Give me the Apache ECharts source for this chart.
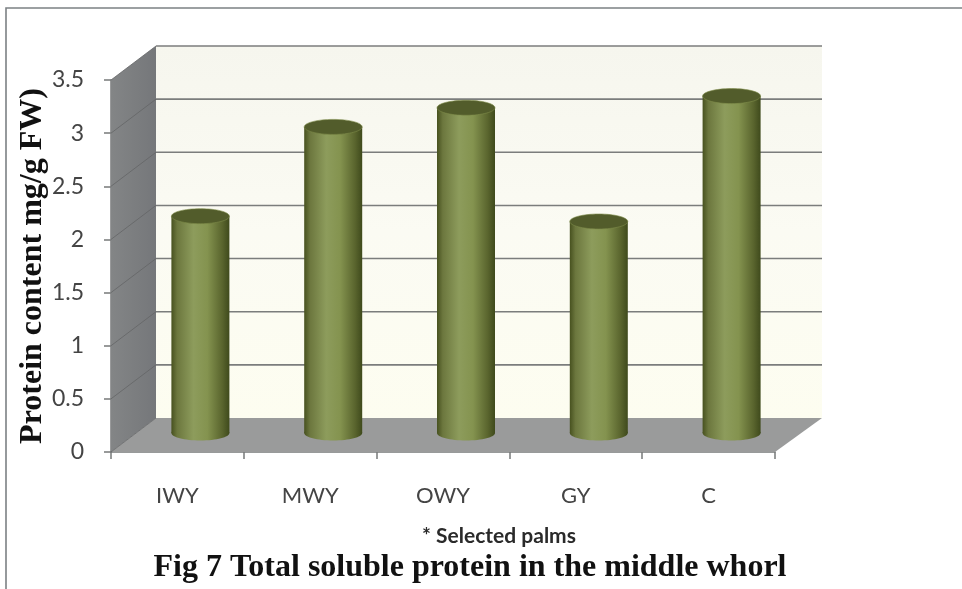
<!DOCTYPE html>
<html>
<head>
<meta charset="utf-8">
<style>html,body{margin:0;padding:0;background:#fff}#chart{width:962px;height:589px}</style>
<script src="https://cdn.jsdelivr.net/npm/echarts@6/dist/echarts.min.js"></script>
</head>
<body>
<div id="chart"></div>
<script>
// Total soluble protein per palm group
const categories = ['IWY', 'MWY', 'OWY', 'GY', 'C'];
const proteinValues = [2.04, 2.88, 3.06, 1.99, 3.17];
const valueTicks = [0, 0.5, 1, 1.5, 2, 2.5, 3, 3.5];

// Pseudo-3D box: the back wall sits up and to the right of the front plane
const DEPTH_X = 45;
const DEPTH_Y = -34;
const CYL_RX = 29;
const CYL_RY = 7.5;
const CYL_SHIFT_X = 23;
const CYL_SHIFT_Y = -19;

const chart = echarts.init(document.getElementById('chart'), null, { renderer: 'canvas' });

function renderRoom(params, api) {
  const cs = params.coordSys;
  const left = cs.x, right = cs.x + cs.width, bottom = cs.y + cs.height, top = cs.y;
  const bl = left + DEPTH_X, br = right + DEPTH_X + 2;
  const children = [];
  children.push({
    type: 'rect',
    shape: { x: bl, y: top + DEPTH_Y, width: br - bl, height: cs.height },
    style: { fill: new echarts.graphic.LinearGradient(0, 0, 0, 1, [
      { offset: 0, color: '#f6f6ee' }, { offset: 0.5, color: '#fbfbf3' }, { offset: 1, color: '#fdfdf0' }
    ]) }
  });
  children.push({
    type: 'polygon',
    shape: { points: [[left, top], [bl, top + DEPTH_Y], [bl, bottom + DEPTH_Y], [left, bottom]] },
    style: { fill: new echarts.graphic.LinearGradient(0, 0, 1, 0, [
      { offset: 0, color: '#838586' }, { offset: 1, color: '#75777a' }
    ]) }
  });
  children.push({
    type: 'polygon',
    shape: { points: [[left, bottom], [bl, bottom + DEPTH_Y], [br, bottom + DEPTH_Y], [right, bottom]] },
    style: { fill: '#9a9b9b' }
  });
  valueTicks.forEach(function (tick) {
    const y = api.coord([0, tick])[1];
    children.push({ type: 'line', shape: { x1: left, y1: y, x2: bl, y2: y + DEPTH_Y }, style: { stroke: '#636566', lineWidth: 0.8 } });
    if (tick > 0) {
      children.push({ type: 'line', shape: { x1: bl, y1: y + DEPTH_Y, x2: br, y2: y + DEPTH_Y }, style: { stroke: '#7b7d7c', lineWidth: 1.6 } });
    }
  });
  return { type: 'group', children: children };
}

function renderCylinder(params, api) {
  const cat = api.value(0);
  const base = api.coord([cat, 0]);
  const head = api.coord([cat, api.value(1)]);
  const cx = base[0] + CYL_SHIFT_X;
  const yBase = base[1] + CYL_SHIFT_Y;
  const yTop = head[1] + CYL_SHIFT_Y;
  const bodyFill = new echarts.graphic.LinearGradient(0, 0, 1, 0, [
    { offset: 0, color: '#47511f' },
    { offset: 0.1, color: '#6c773e' },
    { offset: 0.38, color: '#8d9c5c' },
    { offset: 0.62, color: '#84934f' },
    { offset: 0.88, color: '#59642d' },
    { offset: 1, color: '#3f4a1c' }
  ]);
  return {
    type: 'group',
    children: [
      { type: 'ellipse', shape: { cx: cx, cy: yBase, rx: CYL_RX, ry: CYL_RY }, style: { fill: bodyFill } },
      { type: 'rect', shape: { x: cx - CYL_RX, y: yTop, width: CYL_RX * 2, height: yBase - yTop }, style: { fill: bodyFill } },
      { type: 'ellipse', shape: { cx: cx, cy: yTop, rx: CYL_RX, ry: CYL_RY }, style: { fill: '#525c2b', stroke: '#7d8b4a', lineWidth: 0.6 } }
    ]
  };
}

chart.setOption({
  animation: false,
  backgroundColor: '#ffffff',
  graphic: [{
    type: 'polyline',
    silent: true,
    shape: { points: [[6, 589], [6, 8], [962, 8]] },
    style: { fill: null, stroke: '#7c8184', lineWidth: 1.6 }
  }],
  title: [
    {
      text: '* Selected palms',
      left: 494, top: 521, textAlign: 'center',
      textStyle: { fontFamily: 'Lato', fontWeight: 'bold', fontSize: 21, color: '#2a2a2a' }
    },
    {
      text: 'Fig 7 Total soluble protein in the middle whorl',
      left: 465, top: 547, textAlign: 'center',
      textStyle: { fontFamily: 'Liberation Serif', fontWeight: 'bold', fontSize: 32, color: '#111111' }
    }
  ],
  grid: { left: 111, right: 187, top: 80, bottom: 137, containLabel: false, outerBoundsMode: 'none' },
  xAxis: {
    type: 'category',
    data: categories,
    boundaryGap: true,
    axisLine: { lineStyle: { color: '#77797a', width: 1.5 } },
    axisTick: { show: true, length: 7, alignWithLabel: false, lineStyle: { color: '#77797a', width: 1.5 } },
    axisLabel: { margin: 33, fontFamily: 'Lato', fontSize: 22, color: '#444444' }
  },
  yAxis: {
    type: 'value',
    min: 0, max: 3.5, interval: 0.5,
    name: 'Protein content mg/g FW)',
    nameLocation: 'middle',
    nameRotate: 90,
    nameGap: 62,
    nameMoveOverlap: false,
    nameTextStyle: { fontFamily: 'Liberation Serif', fontWeight: 'bold', fontSize: 32, color: '#111111' },
    axisLine: { show: true, lineStyle: { color: '#77797a', width: 1.5 } },
    axisTick: { show: true, length: 7, lineStyle: { color: '#77797a', width: 1.5 } },
    axisLabel: { margin: 27, fontFamily: 'Lato', fontSize: 23, color: '#444444' },
    splitLine: { show: false }
  },
  series: [
    { type: 'custom', renderItem: renderRoom, data: [0], silent: true, clip: false, z: 1 },
    {
      type: 'custom',
      renderItem: renderCylinder,
      encode: { x: 0, y: 1 },
      data: proteinValues.map(function (v, i) { return [i, v]; }),
      clip: false,
      z: 2
    }
  ]
});
</script>
</body>
</html>
